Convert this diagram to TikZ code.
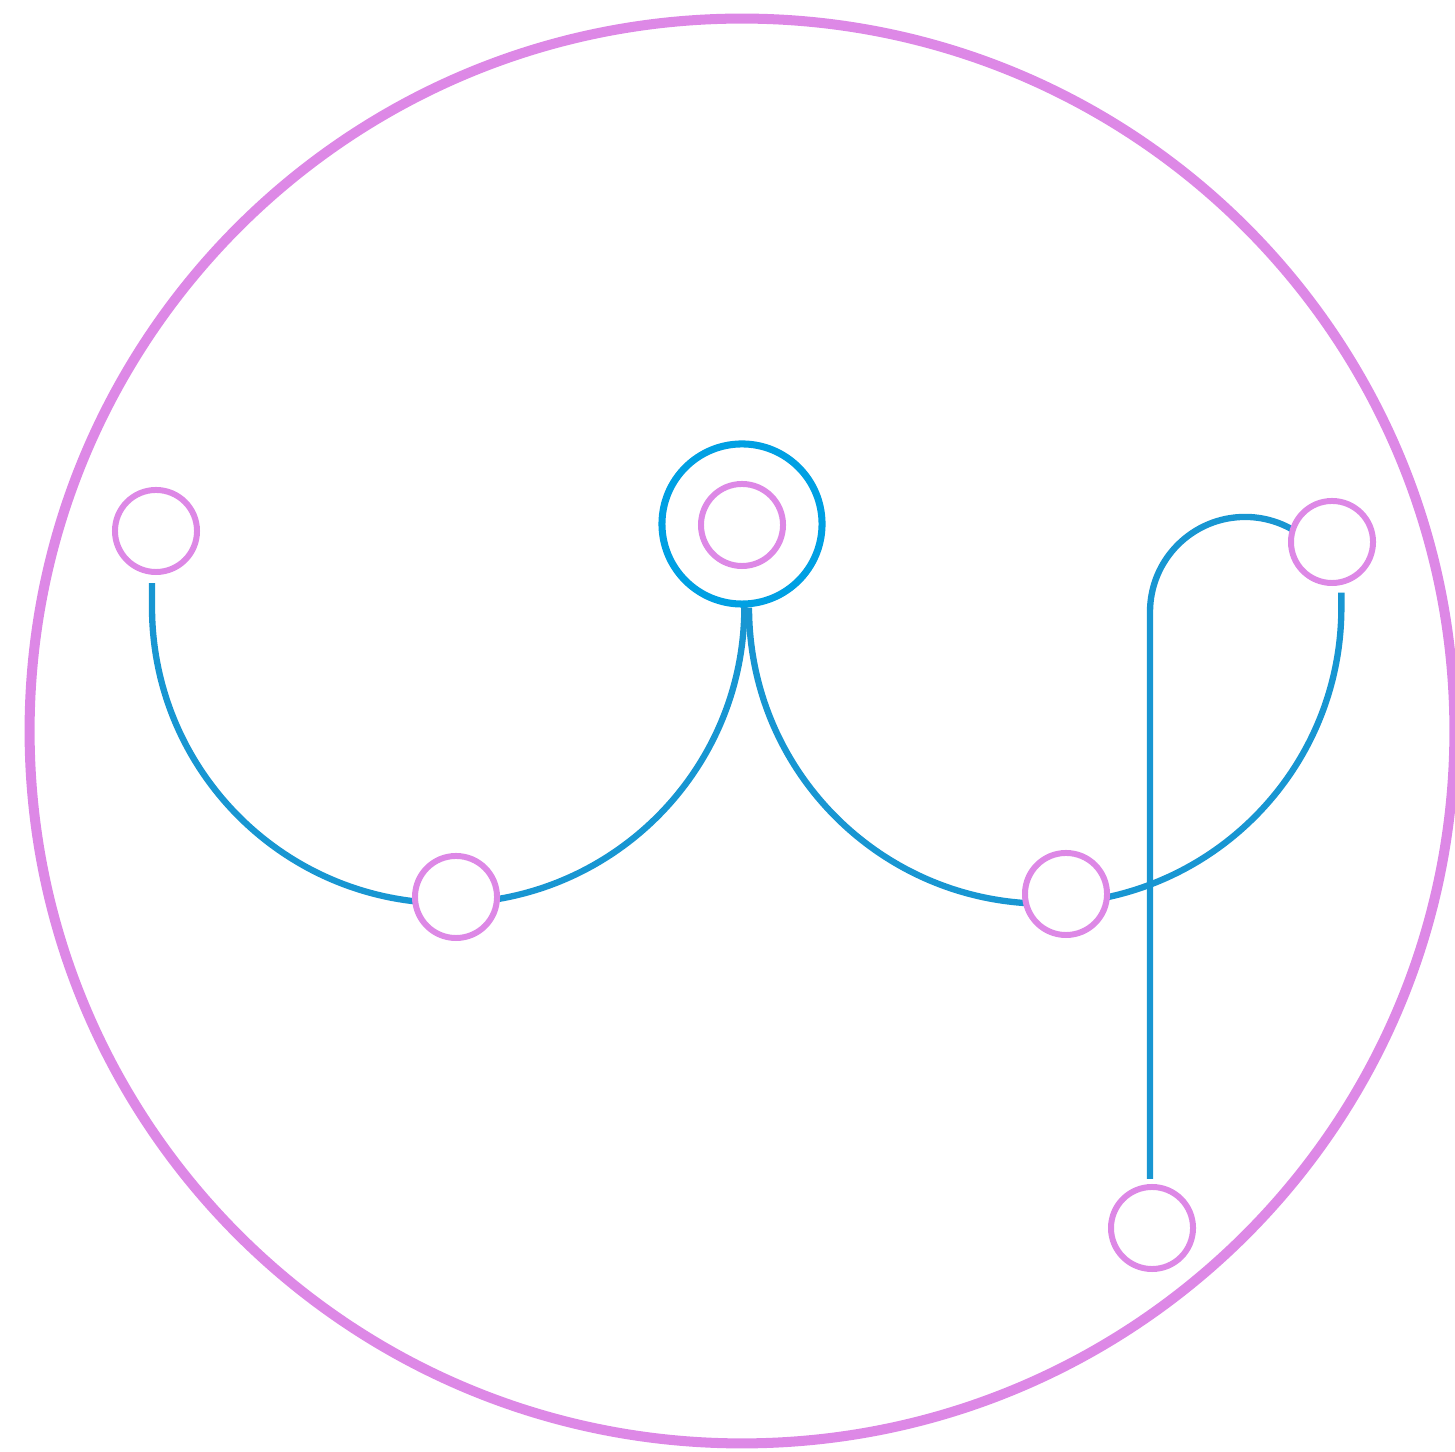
\documentclass[tikz,border=0pt]{standalone}
\usetikzlibrary{backgrounds}
\definecolor{pinkc}{RGB}{221,136,230}
\definecolor{lineblue}{RGB}{24,150,210}
\definecolor{ringblue}{RGB}{0,160,227}
\tikzset{
  dot/.style={circle, draw=pinkc, line width=1.7pt, fill=white, minimum size=0.82cm, inner sep=0pt},
  ring/.style={circle, draw=ringblue, line width=2pt, fill=white, minimum size=1.60cm, inner sep=0pt},
  bigring/.style={draw=pinkc, line width=2.85pt},
  blueline/.style={draw=lineblue, line width=1.8pt}
}
\begin{document}
\begin{tikzpicture}[x=0.01cm,y=0.01cm]
\useasboundingbox (0,0) rectangle (1455,1452);
% nodes
\node[ring] (O) at (742,928) {};
\node[dot] (Oc) at (742,927) {};
\node[dot] (A) at (156,921) {};
\node[dot] (B) at (456,555) {};
\node[dot] (C) at (1066,558) {};
\node[dot] (D) at (1332,910) {};
\node[dot] (E) at (1152,224) {};
\begin{scope}[on background layer]
  \node[circle, bigring, minimum size=14.24cm, inner sep=0pt] (big) at (742,721) {};
  % left arc: A -> B -> O
  \draw[blueline] ([shift={(-0.04cm,-0.08cm)}]A.south) -- ++(0,-0.24cm)
     arc[start angle=180, end angle=360, radius=2.96cm];
  % right arc: O -> C -> D
  \draw[blueline] ([xshift=0.07cm]O.south) arc[start angle=180, end angle=360, radius=2.96cm]
     -- ++(0,0.15cm);
  % loop: E -> D
  \draw[blueline] ([shift={(-0.02cm,0.05cm)}]E.north) -- (1150,840)
     arc[start angle=180, end angle=60, radius=0.95cm];
\end{scope}
\end{tikzpicture}
\end{document}
